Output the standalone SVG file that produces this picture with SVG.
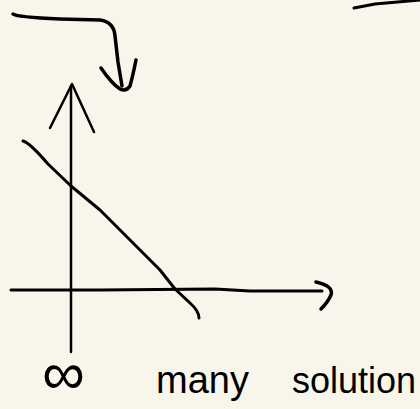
<svg xmlns="http://www.w3.org/2000/svg" width="420" height="409" viewBox="0 0 420 409">
<style>
.s{fill:none;stroke:#000;stroke-linecap:round;stroke-linejoin:round}
.t{font-family:"Liberation Sans",sans-serif;fill:#000}
</style>
<rect width="420" height="409" fill="#f8f6eb"/>
<g id="connectors">
<path class="s" stroke-width="3.5" d="M13,14 Q16,17 60,19 L100,20 Q114,22 115,36 L118,62 L122,86"/>
<path class="s" stroke-width="3.5" d="M101,68 Q112,84 120,89 Q126,92 130,86 Q133,75 136,60"/>
<path class="s" stroke-width="3" d="M354,8 L375,4 L420,0"/>
</g>
<g id="axes">
<path class="s" stroke-width="2.5" d="M71,86 L71,352"/>
<path class="s" stroke-width="2.5" d="M50,128 L72,84 L94,132"/>
<path class="s" stroke-width="3" d="M11,290 L100,290 L215,289 L250,291 L322,291"/>
<path class="s" stroke-width="3.5" d="M316,282 Q334,286 331,295 Q328,302 321,309"/>
</g>
<g id="line">
<path class="s" stroke-width="3" d="M23,141 Q30,143 48,164 L71,186 L100,210 L133,243 L160,270 L175,289 L190,303 Q199,311 199,318"/>
</g>
<g id="label">
<text class="t" x="42" y="394" font-size="60">∞</text>
<text class="t" x="156" y="393" font-size="38">many</text>
<text class="t" x="292" y="393" font-size="36">solution</text>
</g>
</svg>
